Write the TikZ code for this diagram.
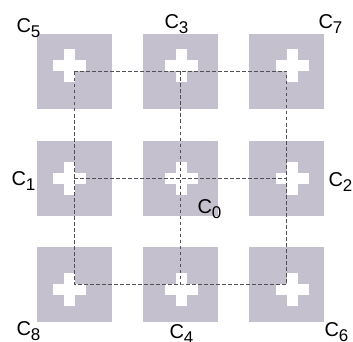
\documentclass[tikz,border=0pt]{standalone}
\usepackage{fontspec}
\setmainfont{Liberation Sans}
\definecolor{sqgray}{RGB}{196,192,206}
\definecolor{dashgray}{RGB}{80,80,85}
\newcommand\clab[1]{\fontsize{20}{20}\selectfont C\raisebox{-5pt}{\fontsize{17}{17}\selectfont #1}}
\begin{document}
\begin{tikzpicture}[x=1pt,y=-1pt,
  sq/.style={fill=sqgray,draw=none,minimum size=75pt,inner sep=0pt,outer sep=0pt},
  lab/.style={anchor=base west,inner sep=0pt,outer sep=0pt},
  dsh/.style={draw=dashgray,line width=1pt,dash pattern=on 3.5pt off 2.5pt}]
\useasboundingbox (0,0) rectangle (353,342);
% squares
\node[sq] (s5) at (74,71.5) {};
\node[sq] (s3) at (180.5,71.5) {};
\node[sq] (s7) at (286.5,71.5) {};
\node[sq] (s1) at (74,178) {};
\node[sq] (s0) at (180.5,178) {};
\node[sq] (s2) at (286.5,178) {};
\node[sq] (s8) at (74,284) {};
\node[sq] (s4) at (180.5,284) {};
\node[sq] (s6) at (286.5,284) {};
% crosses
\foreach \cx/\cy in {69.5/66, 181.5/66, 292/66, 69.5/178, 181.5/178, 292.5/178, 69.5/289.5, 181.5/289.5, 292/289.5}{
  \fill[white] (\cx-16.5,\cy-5.5) rectangle (\cx+16.5,\cy+5.5);
  \fill[white] (\cx-5.5,\cy-16.5) rectangle (\cx+5.5,\cy+16.5);
}
% dashed lines
\draw[dsh] (s5.center) -- (s3.center) -- (s7.center) -- (s2.center) -- (s6.center) -- (s4.center) -- (s8.center) -- (s1.center) -- cycle;
\draw[dsh] (s1.center) -- (s0.center) -- (s2.center);
\draw[dsh] (s3.center) -- (s0.center) -- (s4.center);
% labels
\node[lab] (l5) at (16.5,33) {\clab{5}};
\node[lab] (l3) at (164.5,28.5) {\clab{3}};
\node[lab] (l7) at (318.5,28.5) {\clab{7}};
\node[lab] (l1) at (11.5,185.5) {\clab{1}};
\node[lab] (l0) at (197.5,213) {\clab{0}};
\node[lab] (l2) at (328.5,186.5) {\clab{2}};
\node[lab] (l8) at (16.5,335) {\clab{8}};
\node[lab] (l4) at (169.5,338.5) {\clab{4}};
\node[lab] (l6) at (324.5,336.5) {\clab{6}};
\end{tikzpicture}
\end{document}
